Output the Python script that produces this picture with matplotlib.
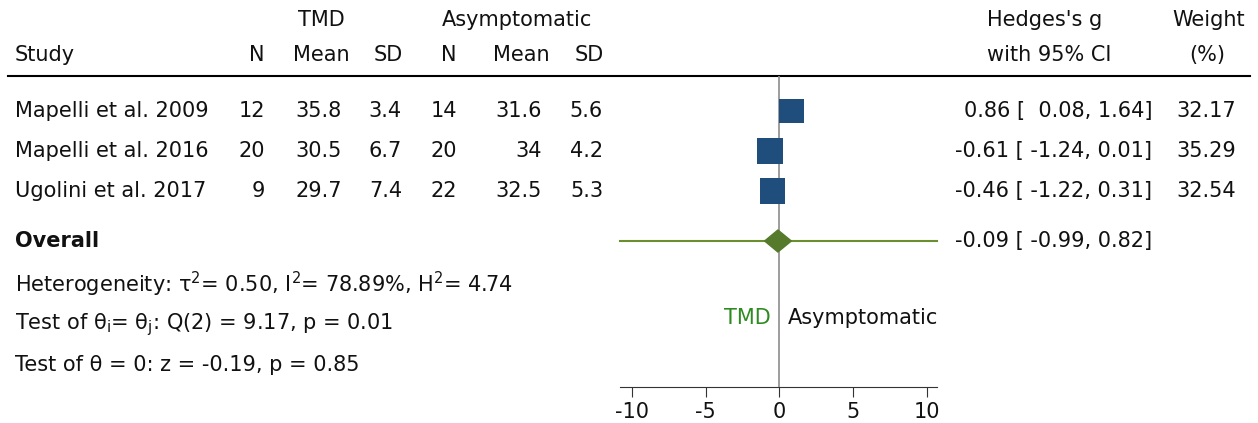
import matplotlib.pyplot as plt
from matplotlib.patches import Polygon

# datos de los estudios
estudios = ["Mapelli et al. 2009", "Mapelli et al. 2016", "Ugolini et al. 2017"]
tmd_n = [12, 20, 9]
tmd_mean = [35.8, 30.5, 29.7]
tmd_sd = [3.4, 6.7, 7.4]
asy_n = [14, 20, 22]
asy_mean = [31.6, 34, 32.5]
asy_sd = [5.6, 4.2, 5.3]
hedges_g = [0.86, -0.61, -0.46]
ci_lo = [0.08, -1.24, -1.22]
ci_hi = [1.64, 0.01, 0.31]
peso = [32.17, 35.29, 32.54]

# efecto global
overall_g = -0.09
overall_lo = -0.99
overall_hi = 0.82

ticks = [-10, -5, 0, 5, 10]

het_txt = r"Heterogeneity: τ$^\mathregular{2}$= 0.50, I$^\mathregular{2}$= 78.89%, H$^\mathregular{2}$= 4.74"
test1_txt = r"Test of θ$_\mathregular{i}$= θ$_\mathregular{j}$: Q(2) = 9.17, p = 0.01"
test2_txt = "Test of θ = 0: z = -0.19, p = 0.85"

plt.rcParams['font.family'] = ['DejaVu Sans']
plt.rcParams['mathtext.fontset'] = 'dejavusans'

W, H = 1258, 423
fig = plt.figure(figsize=(W / 100, H / 100), dpi=100)

# ejes de texto en coordenadas de pixel
ax = fig.add_axes([0, 0, 1, 1])
ax.set_xlim(0, W)
ax.set_ylim(H, 0)
ax.axis("off")

fs = 15
negro = "#111111"
filas = [111, 151, 191]
y_overall = 241

# cabeceras
ax.text(321, 20, "TMD", ha="center", va="center", fontsize=fs, color=negro)
ax.text(517, 20, "Asymptomatic", ha="center", va="center", fontsize=fs, color=negro)
ax.text(1045, 20, "Hedges's g", ha="center", va="center", fontsize=fs, color=negro)
ax.text(1209, 20, "Weight", ha="center", va="center", fontsize=fs, color=negro)
ax.text(15, 55, "Study", ha="left", va="center", fontsize=fs, color=negro)
for x, t in [(257, "N"), (321, "Mean"), (388, "SD"), (449, "N"), (521, "Mean"), (589, "SD")]:
    ax.text(x, 55, t, ha="center", va="center", fontsize=fs, color=negro)
ax.text(1049, 55, "with 95% CI", ha="center", va="center", fontsize=fs, color=negro)
ax.text(1207, 55, "(%)", ha="center", va="center", fontsize=fs, color=negro)
ax.plot([8, 1250], [76, 76], color="black", lw=1.5)

# columnas de la tabla
cols = [(265, tmd_n), (342, tmd_mean), (402, tmd_sd), (457, asy_n), (542, asy_mean), (603, asy_sd)]
for i, y in enumerate(filas):
    ax.text(15, y, estudios[i], ha="left", va="center", fontsize=fs, color=negro)
    for x, vals in cols:
        ax.text(x, y, f"{vals[i]:g}", ha="right", va="center", fontsize=fs, color=negro)
    ax.text(1152, y, f"{hedges_g[i]:.2f} [{ci_lo[i]:6.2f}, {ci_hi[i]:.2f}]",
            ha="right", va="center", fontsize=fs, color=negro)
    ax.text(1236, y, f"{peso[i]:.2f}", ha="right", va="center", fontsize=fs, color=negro)

ax.text(15, y_overall, "Overall", ha="left", va="center", fontsize=fs, color=negro, fontweight="bold")
ax.text(1152, y_overall, f"{overall_g:.2f} [{overall_lo:6.2f}, {overall_hi:.2f}]",
        ha="right", va="center", fontsize=fs, color=negro)
ax.text(15, 284, het_txt, ha="left", va="center", fontsize=fs, color=negro)
ax.text(15, 325, test1_txt, ha="left", va="center", fontsize=fs, color=negro)
ax.text(15, 365, test2_txt, ha="left", va="center", fontsize=fs, color=negro)

# ejes del forest plot
izq, der, arr, abj = 620, 937, 76, 387
fx = fig.add_axes([izq / W, 1 - abj / H, (der - izq) / W, (abj - arr) / H])
fx.patch.set_alpha(0)
fx.set_xlim(-10.8, 10.7)
fx.set_ylim(abj, arr)
for s in ["top", "left", "right"]:
    fx.spines[s].set_visible(False)
fx.spines["bottom"].set_color("#333333")
fx.set_yticks([])
fx.set_xticks(ticks)
fx.set_xticklabels([str(t) for t in ticks])
fx.tick_params(axis="x", labelsize=fs, length=7, color="#333333", labelcolor=negro, pad=4)

fx.axvline(0, color="#8c8c8c", lw=1.2, zorder=1)

azul = "#1f4e7c"
verde = "#557a2c"
for i, y in enumerate(filas):
    fx.plot([ci_lo[i], ci_hi[i]], [y, y], color=azul, lw=1.2, zorder=2)
fx.scatter(hedges_g, filas, marker="s", s=[w * 10 for w in peso], color=azul, zorder=3, linewidths=0)

# línea y diamante del efecto global
fx.plot([-10.8, 10.7], [y_overall, y_overall], color="#6b8f2e", lw=1.5, zorder=2, clip_on=False)
diam = Polygon([[overall_lo, y_overall], [overall_g, y_overall - 11],
                [overall_hi, y_overall], [overall_g, y_overall + 11]],
               closed=True, color=verde, zorder=4)
fx.add_patch(diam)

fx.text(-0.6, 318, "TMD", ha="right", va="center", fontsize=fs, color="#2e8b22")
fx.text(0.6, 318, "Asymptomatic", ha="left", va="center", fontsize=fs, color=negro)

plt.savefig("out.png", dpi=100)
